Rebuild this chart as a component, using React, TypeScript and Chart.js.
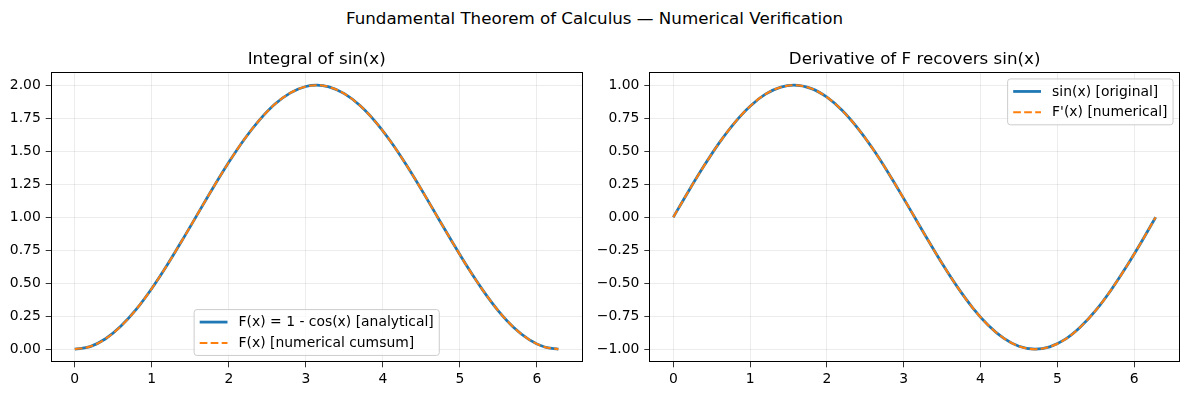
import React, { useEffect, useRef } from "react";
import { Chart, registerables } from "chart.js";

Chart.register(...registerables);

// ---- data ----
const xValues = [
  0, 0.2, 0.4, 0.6, 0.8, 1.0, 1.2, 1.4, 1.57, 1.8, 2.0, 2.2, 2.4, 2.6, 2.8, 3.0, 3.14,
  3.3, 3.5, 3.7, 3.9, 4.1, 4.3, 4.5, 4.71, 4.9, 5.1, 5.3, 5.5, 5.7, 5.9, 6.1, 6.28,
];
const integralAnalytical = [
  0.0, 0.02, 0.079, 0.175, 0.303, 0.46, 0.638, 0.83, 0.999, 1.227, 1.416, 1.589, 1.737, 1.857, 1.942, 1.99, 2.0,
  1.987, 1.936, 1.848, 1.726, 1.575, 1.401, 1.211, 1.002, 0.814, 0.622, 0.446, 0.291, 0.165, 0.073, 0.017, 0.0,
];
const integralNumerical = [
  0.0, 0.02, 0.079, 0.175, 0.303, 0.46, 0.638, 0.83, 0.999, 1.227, 1.416, 1.589, 1.737, 1.857, 1.942, 1.99, 2.0,
  1.987, 1.936, 1.848, 1.726, 1.575, 1.401, 1.211, 1.002, 0.814, 0.622, 0.446, 0.291, 0.165, 0.073, 0.017, 0.0,
];
const sinOriginal = [
  0.0, 0.199, 0.389, 0.565, 0.717, 0.841, 0.932, 0.985, 1.0, 0.974, 0.909, 0.808, 0.675, 0.516, 0.335, 0.141, 0.002,
  -0.158, -0.351, -0.53, -0.688, -0.818, -0.916, -0.978, -1.0, -0.982, -0.926, -0.832, -0.706, -0.551, -0.374, -0.182, 0.0,
];
const derivativeNumerical = [
  0.0, 0.199, 0.389, 0.565, 0.717, 0.841, 0.932, 0.985, 1.0, 0.974, 0.909, 0.808, 0.675, 0.516, 0.335, 0.141, 0.002,
  -0.158, -0.351, -0.53, -0.688, -0.818, -0.916, -0.978, -1.0, -0.982, -0.926, -0.832, -0.706, -0.551, -0.374, -0.182, 0.0,
];
const xTicks = [0, 1, 2, 3, 4, 5, 6];
const leftYTicks = [0, 0.25, 0.5, 0.75, 1.0, 1.25, 1.5, 1.75, 2.0];
const rightYTicks = [-1.0, -0.75, -0.5, -0.25, 0, 0.25, 0.5, 0.75, 1.0];

const SUPTITLE = "Fundamental Theorem of Calculus \u2014 Numerical Verification";
const LEFT_TITLE = "Integral of sin(x)";
const RIGHT_TITLE = "Derivative of F recovers sin(x)";
const LEFT_LABELS = ["F(x) = 1 - cos(x) [analytical]", "F(x) [numerical cumsum]"];
const RIGHT_LABELS = ["sin(x) [original]", "F'(x) [numerical]"];

// ---- styling ----
const FONT = '"DejaVu Sans", "Liberation Sans", sans-serif';
const FS = 13.9;
const TITLE_FS = 16.7;
const BLUE = "#1f77b4";
const ORANGE = "#ff7f0e";

const toPts = (ys: number[]) => xValues.map((x, i) => ({ x, y: ys[i] }));

const mplPlugin = {
  id: "mplFrame",
  afterDatasetsDraw(chart: any, _args: any, opts: any) {
    const { ctx, chartArea: a } = chart;
    ctx.save();
    // spines (snapped to pixel centres)
    const l = Math.round(a.left) + 0.5;
    const r0 = Math.round(a.right) - 0.5;
    const t = Math.round(a.top) + 0.5;
    const b0 = Math.round(a.bottom) - 0.5;
    ctx.strokeStyle = "#000";
    ctx.lineWidth = 1;
    ctx.setLineDash([]);
    ctx.strokeRect(l, t, r0 - l, b0 - t);
    // axes title
    ctx.fillStyle = "#000";
    ctx.font = `${TITLE_FS}px ${FONT}`;
    ctx.textAlign = "center";
    ctx.textBaseline = "alphabetic";
    ctx.fillText(opts.title, (a.left + a.right) / 2, a.top - 7.8);
    // legend
    const ds = chart.data.datasets;
    ctx.font = `${FS}px ${FONT}`;
    const textW = Math.max(...ds.map((d: any) => ctx.measureText(d.label).width));
    const bp = 0.4 * FS, hl = 2 * FS, hp = 0.8 * FS, ls = 0.5 * FS, rowH = FS, axPad = 0.5 * FS;
    const w = bp * 2 + hl + hp + textW;
    const h = bp * 2 + ds.length * rowH + (ds.length - 1) * ls;
    let x: number, y: number;
    if (opts.loc === "upper right") {
      x = a.right - axPad - w;
      y = a.top + axPad;
    } else {
      x = (a.left + a.right) / 2 - w / 2;
      y = a.bottom - axPad - h;
    }
    const r = 0.2 * FS;
    ctx.beginPath();
    ctx.roundRect(x, y, w, h, r);
    ctx.fillStyle = "rgba(255,255,255,0.8)";
    ctx.fill();
    ctx.strokeStyle = "#cccccc";
    ctx.lineWidth = 1;
    ctx.stroke();
    ds.forEach((d: any, i: number) => {
      const cy = y + bp + i * (rowH + ls) + rowH / 2;
      ctx.beginPath();
      ctx.strokeStyle = d.borderColor;
      ctx.lineWidth = d.borderWidth;
      ctx.setLineDash(d.borderDash || []);
      ctx.lineCap = "butt";
      ctx.moveTo(x + bp, cy);
      ctx.lineTo(x + bp + hl, cy);
      ctx.stroke();
      ctx.setLineDash([]);
      ctx.fillStyle = "#000";
      ctx.textAlign = "left";
      ctx.textBaseline = "middle";
      ctx.fillText(d.label, x + bp + hl + hp, cy + 0.5);
    });
    ctx.restore();
  },
};

const grid = {
  color: "rgba(176,176,176,0.3)",
  lineWidth: 0.8,
  tickColor: "#000",
  tickWidth: 0.8,
  tickLength: 4.9,
  drawTicks: true,
};

function makeConfig(
  a: number[],
  b: number[],
  labels: string[],
  yMin: number,
  yMax: number,
  yTicks: number[],
  yAxisWidth: number,
  padRight: number,
  title: string,
  loc: string
): any {
  return {
    type: "line",
    data: {
      datasets: [
        {
          label: labels[0],
          data: toPts(a),
          borderColor: BLUE,
          borderWidth: 2.78,
          pointRadius: 0,
          cubicInterpolationMode: "monotone",
          fill: false,
          order: 2,
        },
        {
          label: labels[1],
          data: toPts(b),
          borderColor: ORANGE,
          borderWidth: 2.08,
          borderDash: [7.7, 3.3],
          pointRadius: 0,
          cubicInterpolationMode: "monotone",
          fill: false,
          order: 1,
        },
      ],
    },
    options: {
      responsive: false,
      maintainAspectRatio: false,
      animation: false,
      events: [],
      layout: { padding: { left: 0, right: padRight, top: 72, bottom: 0 } },
      plugins: {
        legend: { display: false },
        tooltip: { enabled: false },
        mplFrame: { title, loc },
      },
      scales: {
        x: {
          type: "linear",
          min: -0.314,
          max: 6.597,
          grid,
          border: { display: false },
          afterBuildTicks: (s: any) => {
            s.ticks = xTicks.map((v) => ({ value: v }));
          },
          afterFit: (s: any) => {
            s.height = 33.6;
          },
          ticks: {
            autoSkip: false,
            maxRotation: 0,
            padding: 4.2,
            color: "#000",
            font: { family: FONT, size: FS },
            callback: (v: any) => String(v),
          },
        },
        y: {
          type: "linear",
          min: yMin,
          max: yMax,
          grid,
          border: { display: false },
          afterBuildTicks: (s: any) => {
            s.ticks = yTicks.map((v) => ({ value: v }));
          },
          afterFit: (s: any) => {
            s.width = yAxisWidth;
          },
          ticks: {
            autoSkip: false,
            padding: 4.9,
            color: "#000",
            font: { family: FONT, size: FS },
            callback: (v: any) => Number(v).toFixed(2).replace("-", "\u2212"),
          },
        },
      },
    },
    plugins: [mplPlugin],
  };
}

export default function App() {
  const leftRef = useRef<HTMLCanvasElement>(null);
  const rightRef = useRef<HTMLCanvasElement>(null);

  useEffect(() => {
    const c1 = new Chart(
      leftRef.current as HTMLCanvasElement,
      makeConfig(integralAnalytical, integralNumerical, LEFT_LABELS, -0.1, 2.1, leftYTicks, 50.6, 11.2, LEFT_TITLE, "lower center")
    );
    const c2 = new Chart(
      rightRef.current as HTMLCanvasElement,
      makeConfig(sinOriginal, derivativeNumerical, RIGHT_LABELS, -1.1, 1.1, rightYTicks, 55.2, 9, RIGHT_TITLE, "upper right")
    );
    return () => {
      c1.destroy();
      c2.destroy();
    };
  }, []);

  return (
    <div style={{ position: "absolute", left: 0, top: 0, width: 1189, height: 396, background: "#fff", overflow: "hidden" }}>
      <div
        style={{
          position: "absolute",
          left: 0,
          top: 10.4,
          width: 1189,
          textAlign: "center",
          fontFamily: FONT,
          fontSize: TITLE_FS,
          lineHeight: `${TITLE_FS}px`,
          color: "#000",
          whiteSpace: "nowrap",
        }}
      >
        {SUPTITLE}
      </div>
      <canvas ref={leftRef} width={594} height={396} style={{ position: "absolute", left: 0, top: 0, display: "block" }} />
      <canvas ref={rightRef} width={595} height={396} style={{ position: "absolute", left: 594, top: 0, display: "block" }} />
    </div>
  );
}
